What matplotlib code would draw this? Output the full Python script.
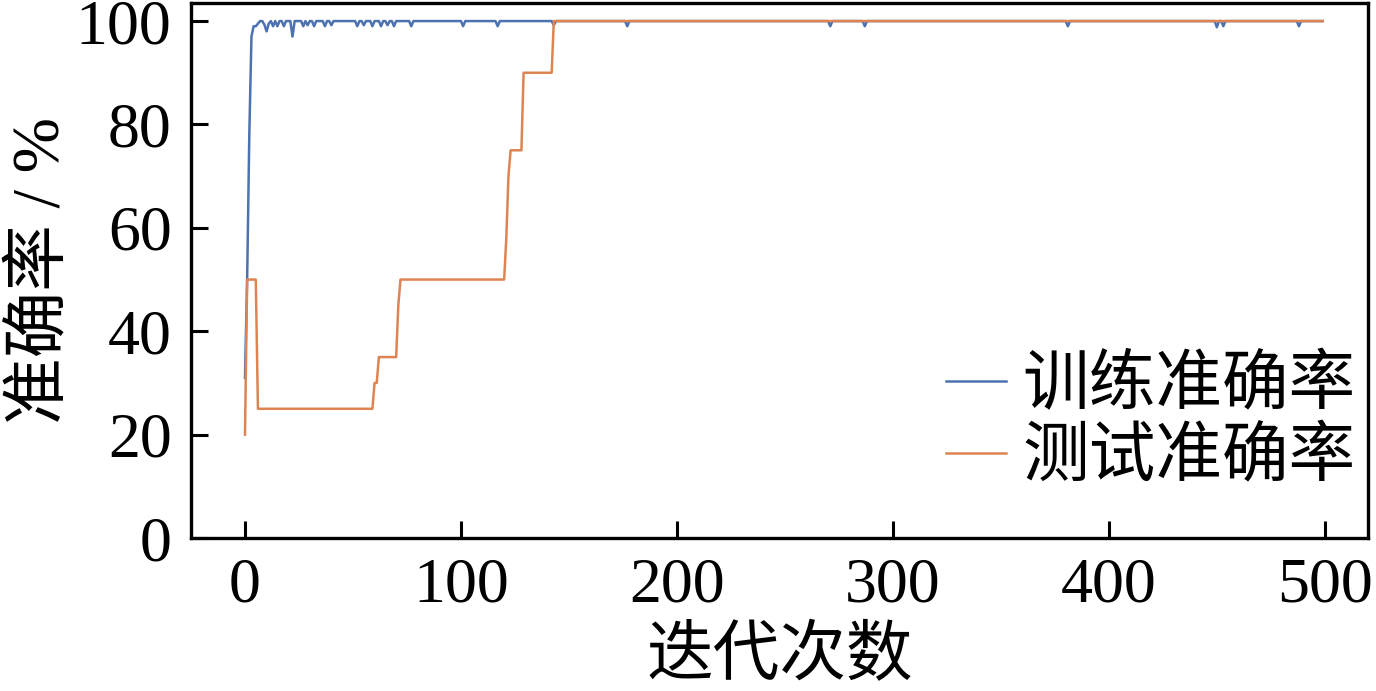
import numpy as np
import matplotlib
matplotlib.use("Agg")
import matplotlib.pyplot as plt

# test accuracy: plateau levels and how many iterations each lasts
test_levels = [20, 50, 25, 30, 35, 45, 50, 58, 70, 75, 90, 100]
test_counts = [1, 5, 54, 2, 9, 1, 49, 1, 1, 6, 14, 357]

# train accuracy: first iterations, then 100 with small dips
train_early = [31, 50, 78, 97, 99, 99, 99.5, 100, 100, 99.3, 98, 99.5,
               100, 99, 100, 99, 100, 100, 99, 100, 100, 100, 97]
train_level = 100
dip_iters = [27, 29, 32, 37, 40, 52, 55, 59, 63, 66, 69, 77,
             101, 117, 143, 177, 271, 287, 381, 450, 453, 488]
dip_values = [99, 99.2, 99, 99, 99.2, 99, 99.2, 99, 99, 99.2, 99, 99,
              99, 99, 99.2, 99, 99, 99, 99, 98.8, 99, 99]

n_iter = sum(test_counts)
test_acc = np.repeat(test_levels, test_counts).astype(float)
train_acc = np.full(n_iter, float(train_level))
train_acc[:len(train_early)] = train_early
train_acc[dip_iters] = dip_values
iters = np.arange(n_iter)

plt.rcParams["font.family"] = ["Liberation Serif", "Noto Sans CJK SC"]
plt.rcParams["font.size"] = 48

fig = plt.figure(figsize=(13.76, 6.91), dpi=100)
ax = fig.add_axes([0.1388, 0.2214, 0.8554, 0.7743])

ax.plot(iters, train_acc, color="#4C72B0", lw=1.8, label="训练准确率")
ax.plot(iters, test_acc, color="#DD8452", lw=1.8, label="测试准确率")

ax.set_xlim(-25, 520)
ax.set_ylim(0, 103.5)
ax.set_xticks([0, 100, 200, 300, 400, 500])
ax.set_yticks([0, 20, 40, 60, 80, 100])
ax.tick_params(direction="in", length=12, width=2.2, pad=14, labelsize=46)
for s in ax.spines.values():
    s.set_linewidth(2.4)

ax.set_xlabel("迭代次数", labelpad=8)
ax.set_ylabel("准确率 / %", labelpad=2)

ax.legend(loc="lower right", frameon=False, handlelength=0.9,
          handletextpad=0.25, labelspacing=0.15, borderaxespad=0.0,
          bbox_to_anchor=(1.012, 0.04))

fig.savefig("out.png", dpi=100)
